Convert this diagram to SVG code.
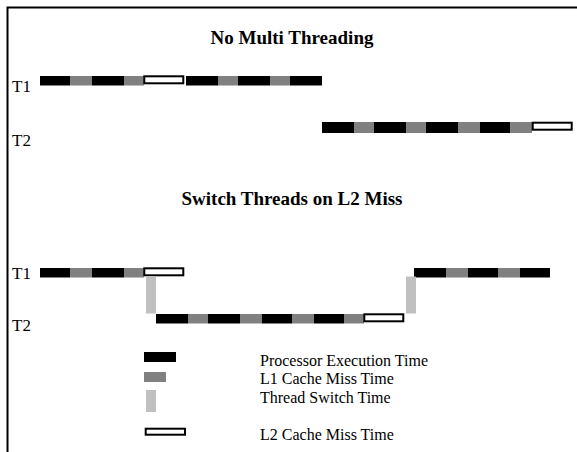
<svg xmlns="http://www.w3.org/2000/svg" width="577" height="452" viewBox="0 0 577 452">
  <style>
    .exec { fill: #000000; }
    .l1 { fill: #808080; }
    .sw { fill: #c0c0c0; }
    .l2 { fill: #ffffff; stroke: #000000; stroke-width: 2; }
    .frame { stroke: #000000; stroke-width: 2; fill: none; }
    .title { font-family: "Liberation Serif", "Times New Roman", serif; font-weight: bold; font-size: 19px; fill: #000; text-anchor: middle; }
    .lbl { font-family: "Liberation Serif", "Times New Roman", serif; font-size: 17px; fill: #000; }
    .leg { font-family: "Liberation Serif", "Times New Roman", serif; font-size: 16px; fill: #000; }
  </style>

  <rect width="577" height="452" fill="#ffffff"/>
  <!-- frame: top and left rules -->
  <path class="frame" d="M7.5 452 V7.5 H577"/>

  <text class="title" x="292" y="44">No Multi Threading</text>
  <text class="title" x="292" y="205">Switch Threads on L2 Miss</text>

  <!-- no multithreading: T1 -->
  <g id="nomt-t1">
    <text class="lbl" x="12" y="92">T1</text>
    <rect class="exec" x="40" y="76" width="30" height="9.5"/>
    <rect class="l1" x="70" y="76" width="22" height="9.5"/>
    <rect class="exec" x="92" y="76" width="32" height="9.5"/>
    <rect class="l1" x="124" y="76" width="20" height="9.5"/>
    <rect class="l2" x="144.3" y="76.3" width="39" height="7"/>
    <rect class="exec" x="186" y="76" width="32" height="9.5"/>
    <rect class="l1" x="218" y="76" width="20" height="9.5"/>
    <rect class="exec" x="238" y="76" width="32" height="9.5"/>
    <rect class="l1" x="270" y="76" width="20" height="9.5"/>
    <rect class="exec" x="290" y="76" width="32" height="9.5"/>
  </g>

  <!-- no multithreading: T2 -->
  <g id="nomt-t2">
    <text class="lbl" x="12" y="146">T2</text>
    <rect class="exec" x="322" y="122" width="32" height="11"/>
    <rect class="l1" x="354" y="122" width="20" height="11"/>
    <rect class="exec" x="374" y="122" width="32" height="11"/>
    <rect class="l1" x="406" y="122" width="20" height="11"/>
    <rect class="exec" x="426" y="122" width="32" height="11"/>
    <rect class="l1" x="458" y="122" width="22" height="11"/>
    <rect class="exec" x="480" y="122" width="30" height="11"/>
    <rect class="l1" x="510" y="122" width="22" height="11"/>
    <rect class="l2" x="532.7" y="122.7" width="39" height="7"/>
  </g>

  <!-- switch on L2 miss: T1 -->
  <g id="sw-t1">
    <text class="lbl" x="12" y="279">T1</text>
    <rect class="exec" x="40" y="268" width="30" height="9.5"/>
    <rect class="l1" x="70" y="268" width="22" height="9.5"/>
    <rect class="exec" x="92" y="268" width="32" height="9.5"/>
    <rect class="l1" x="124" y="268" width="20" height="9.5"/>
    <rect class="l2" x="144.3" y="268.3" width="39" height="7"/>
    <rect class="exec" x="414" y="268" width="32" height="9.5"/>
    <rect class="l1" x="446" y="268" width="22" height="9.5"/>
    <rect class="exec" x="468" y="268" width="30" height="9.5"/>
    <rect class="l1" x="498" y="268" width="22" height="9.5"/>
    <rect class="exec" x="520" y="268" width="30" height="9.5"/>
  </g>

  <!-- switch on L2 miss: T2 -->
  <g id="sw-t2">
    <text class="lbl" x="12" y="331">T2</text>
    <rect class="exec" x="156" y="314" width="32" height="9.5"/>
    <rect class="l1" x="188" y="314" width="20" height="9.5"/>
    <rect class="exec" x="208" y="314" width="32" height="9.5"/>
    <rect class="l1" x="240" y="314" width="22" height="9.5"/>
    <rect class="exec" x="262" y="314" width="30" height="9.5"/>
    <rect class="l1" x="292" y="314" width="22" height="9.5"/>
    <rect class="exec" x="314" y="314" width="30" height="9.5"/>
    <rect class="l1" x="344" y="314" width="20" height="9.5"/>
    <rect class="l2" x="364.3" y="314.3" width="39" height="7"/>
  </g>

  <!-- thread switches -->
  <g id="switches">
    <rect class="sw" x="146" y="276.5" width="10" height="37"/>
    <rect class="sw" x="406" y="276.5" width="10" height="37"/>
  </g>

  <!-- legend -->
  <g id="legend">
    <rect class="exec" x="144" y="352" width="32" height="10"/>
    <text class="leg" x="260" y="366">Processor Execution Time</text>
    <rect class="l1" x="144" y="372" width="22" height="10"/>
    <text class="leg" x="260" y="384">L1 Cache Miss Time</text>
    <rect class="sw" x="146" y="390" width="10" height="22"/>
    <text class="leg" x="260" y="403">Thread Switch Time</text>
    <rect class="l2" x="145.7" y="428.7" width="39.3" height="6"/>
    <text class="leg" x="260" y="440">L2 Cache Miss Time</text>
  </g>
</svg>
